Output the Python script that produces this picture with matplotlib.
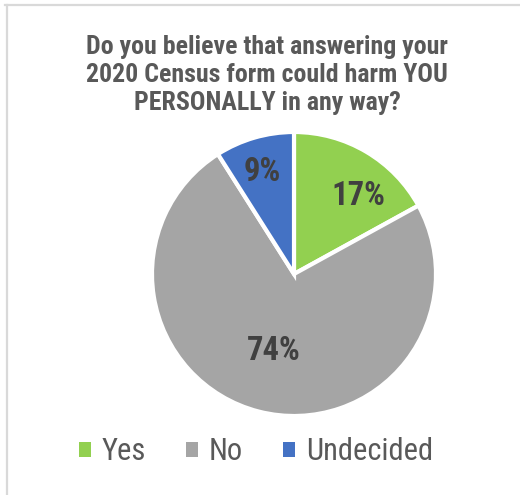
import numpy as np
import matplotlib
matplotlib.use('Agg')
import matplotlib.pyplot as plt
from matplotlib.patches import Patch
from matplotlib.lines import Line2D

plt.rcParams['font.family'] = ['Roboto Condensed', 'Liberation Sans', 'DejaVu Sans']

categories = ['Yes', 'No', 'Undecided']
shares = [17, 74, 9]
colors = ['#92D050', '#A5A5A5', '#4472C4']
title = 'Do you believe that answering your\n2020 Census form could harm YOU\nPERSONALLY in any way?'

W, H = 520, 495
fig = plt.figure(figsize=(W / 100, H / 100), dpi=100)

# thin grey frame on top and left
fig.add_artist(Line2D([5 / W, 1], [1 - 5 / H, 1 - 5 / H], transform=fig.transFigure,
                      color='#D9D9D9', lw=1.6))
fig.add_artist(Line2D([7 / W, 7 / W], [0, 1 - 5 / H], transform=fig.transFigure,
                      color='#D9D9D9', lw=1.6))

fig.text(267 / W, 1 - 75 / H, title, ha='center', va='center', fontsize=18.6,
         fontweight='bold', color='#595959', linespacing=1.22)

cx, cy, r = 294, 274, 142
ax = fig.add_axes([(cx - r) / W, (H - cy - r) / H, 2 * r / W, 2 * r / H])
wedges, _ = ax.pie(shares, colors=colors, startangle=90, counterclock=False,
                   radius=1, wedgeprops=dict(edgecolor='white', linewidth=3))
ax.set_xlim(-1, 1)
ax.set_ylim(-1, 1)
ax.set_aspect('equal')

# percentage labels, placed along each wedge's mid angle
label_dist = [0.71, 0.56, 0.75]
angle_shift = [-9, 0, 1]
for w, v, d, s in zip(wedges, shares, label_dist, angle_shift):
    mid = np.deg2rad((w.theta1 + w.theta2) / 2 + s)
    ax.text(d * np.cos(mid), d * np.sin(mid), f'{v}%', ha='center', va='center',
            fontsize=23.5, fontweight='bold', color='#404040')

handles = [Patch(facecolor=c, edgecolor='none') for c in colors]
fig.legend(handles, categories, loc='center', bbox_to_anchor=(256 / W, 1 - 452 / H),
           ncol=3, frameon=False, fontsize=22, labelcolor='#595959',
           handlelength=0.4, handleheight=0.4, handletextpad=0.35,
           columnspacing=1.3, borderpad=0)

fig.savefig('out.png', dpi=100, facecolor='white')
